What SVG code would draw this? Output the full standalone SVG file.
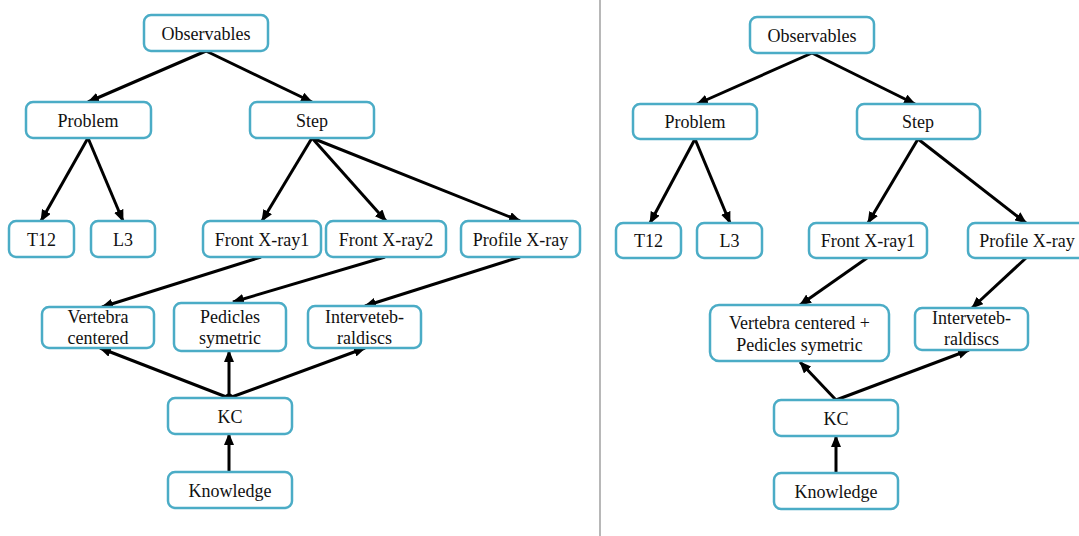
<svg xmlns="http://www.w3.org/2000/svg" width="1079" height="536" viewBox="0 0 1079 536">
<style>
.box{fill:#fff;stroke:#4BACC6;stroke-width:2.5}
.t{font-family:'Liberation Serif','Times New Roman','DejaVu Serif',serif;font-size:18px;fill:#111;text-anchor:middle}
.c{stroke:#000;stroke-width:3;fill:none;marker-end:url(#ah)}
</style>
<defs>
<marker id="ah" markerUnits="userSpaceOnUse" markerWidth="12" markerHeight="10" refX="11" refY="5" orient="auto">
<path d="M0,0 L12,5 L0,10 z" fill="#000"/>
</marker>
</defs>
<rect width="1079" height="536" fill="#fff"/>
<line x1="600" y1="0" x2="600" y2="536" stroke="#888" stroke-width="1.2"/>
<g id="connectors">
<path class="c" d="M206,51 L88,102"/>
<path class="c" d="M206,51 L312,102"/>
<path class="c" d="M88,138 L41,221"/>
<path class="c" d="M88,138 L123,221"/>
<path class="c" d="M312,138 L262,221"/>
<path class="c" d="M312,138 L386,221"/>
<path class="c" d="M312,138 L520,221"/>
<path class="c" d="M261,257 L102,307"/>
<path class="c" d="M385,257 L233,302"/>
<path class="c" d="M520,257 L365,306"/>
<path class="c" d="M229,398 L100,348"/>
<path class="c" d="M229,398 L229,351"/>
<path class="c" d="M229,398 L365,348"/>
<circle cx="229" cy="398" r="4.5" fill="#000"/>
<path class="c" d="M229,472 L229,434"/>
<path class="c" d="M812,53 L697,104"/>
<path class="c" d="M812,53 L915,104"/>
<path class="c" d="M695,139 L650,223"/>
<path class="c" d="M695,139 L730,223"/>
<path class="c" d="M918,139 L868,223"/>
<path class="c" d="M918,139 L1026,223"/>
<path class="c" d="M867,258 L800,305"/>
<path class="c" d="M1026,258 L972,308"/>
<path class="c" d="M836,400 L800,362"/>
<path class="c" d="M836,400 L969,350"/>
<path class="c" d="M836,473 L836,436"/>
</g>
<g id="L-observables"><rect class="box" x="144" y="15" width="124" height="36" rx="7"/><text class="t" x="206" y="40">Observables</text></g>
<g id="L-problem"><rect class="box" x="26" y="102" width="125" height="36" rx="7"/><text class="t" x="88" y="127">Problem</text></g>
<g id="L-step"><rect class="box" x="250" y="102" width="124" height="36" rx="7"/><text class="t" x="312" y="127">Step</text></g>
<g id="L-t12"><rect class="box" x="9" y="221" width="65" height="36" rx="7"/><text class="t" x="41.5" y="246">T12</text></g>
<g id="L-l3"><rect class="box" x="91" y="221" width="64" height="36" rx="7"/><text class="t" x="123" y="246">L3</text></g>
<g id="L-front1"><rect class="box" x="203" y="221" width="118" height="36" rx="7"/><text class="t" x="262" y="246">Front X-ray1</text></g>
<g id="L-front2"><rect class="box" x="326" y="221" width="120" height="36" rx="7"/><text class="t" x="386" y="246">Front X-ray2</text></g>
<g id="L-profile"><rect class="box" x="461" y="221" width="119" height="36" rx="7"/><text class="t" x="520.5" y="246">Profile X-ray</text></g>
<g id="L-vertebra"><rect class="box" x="42" y="307" width="112" height="41" rx="7"/><text class="t" x="98" y="323">Vertebra</text><text class="t" x="98" y="344">centered</text></g>
<g id="L-pedicles"><rect class="box" x="174" y="303" width="112" height="48" rx="7"/><text class="t" x="230" y="323">Pedicles</text><text class="t" x="230" y="344">symetric</text></g>
<g id="L-interveteb"><rect class="box" x="308" y="306" width="113" height="42" rx="7"/><text class="t" x="364.5" y="323">Interveteb-</text><text class="t" x="364.5" y="344">raldiscs</text></g>
<g id="L-kc"><rect class="box" x="168" y="398" width="124" height="36" rx="7"/><text class="t" x="230" y="423">KC</text></g>
<g id="L-knowledge"><rect class="box" x="168" y="472" width="124" height="36" rx="7"/><text class="t" x="230" y="497">Knowledge</text></g>
<g id="R-observables"><rect class="box" x="750" y="17" width="124" height="36" rx="7"/><text class="t" x="812" y="42">Observables</text></g>
<g id="R-problem"><rect class="box" x="633" y="104" width="124" height="35" rx="7"/><text class="t" x="695" y="128">Problem</text></g>
<g id="R-step"><rect class="box" x="857" y="104" width="123" height="35" rx="7"/><text class="t" x="918" y="128">Step</text></g>
<g id="R-t12"><rect class="box" x="616" y="223" width="65" height="35" rx="7"/><text class="t" x="648.5" y="247">T12</text></g>
<g id="R-l3"><rect class="box" x="697" y="223" width="65" height="35" rx="7"/><text class="t" x="729.5" y="247">L3</text></g>
<g id="R-front1"><rect class="box" x="809" y="223" width="118" height="35" rx="7"/><text class="t" x="868" y="247">Front X-ray1</text></g>
<g id="R-profile"><rect class="box" x="968" y="223" width="120" height="35" rx="7"/><text class="t" x="1027" y="247">Profile X-ray</text></g>
<g id="R-vertebra"><rect class="box" x="710" y="305" width="179" height="56" rx="9"/><text class="t" x="799.5" y="329">Vertebra centered +</text><text class="t" x="799.5" y="351">Pedicles symetric</text></g>
<g id="R-interveteb"><rect class="box" x="915" y="308" width="113" height="42" rx="7"/><text class="t" x="971.5" y="324">Interveteb-</text><text class="t" x="971.5" y="345">raldiscs</text></g>
<g id="R-kc"><rect class="box" x="774" y="400" width="124" height="36" rx="7"/><text class="t" x="836" y="425">KC</text></g>
<g id="R-knowledge"><rect class="box" x="774" y="473" width="124" height="36" rx="7"/><text class="t" x="836" y="498">Knowledge</text></g>
</svg>
